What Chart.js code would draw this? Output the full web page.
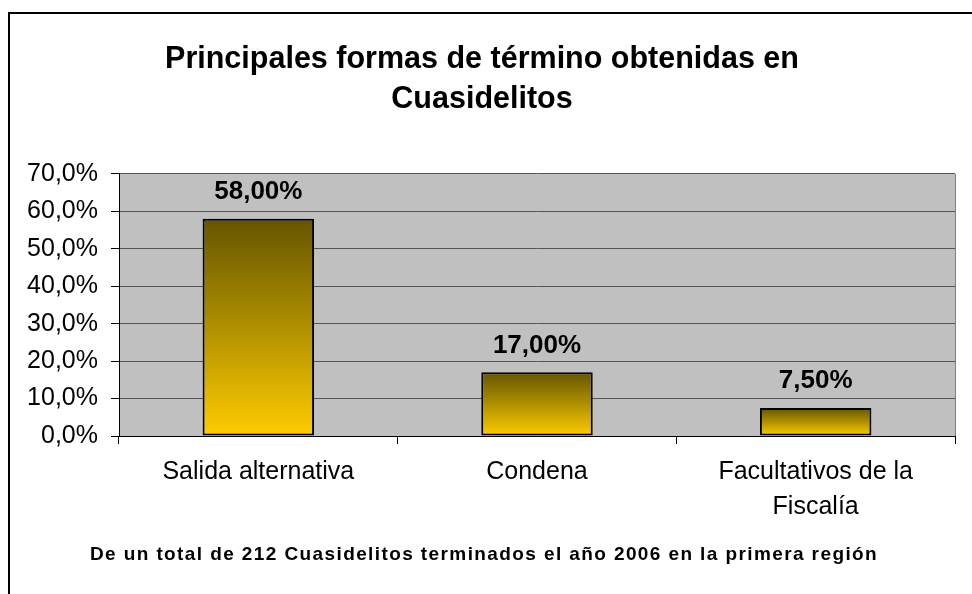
<!DOCTYPE html>
<html lang="es">
<head>
  <meta charset="UTF-8" />
  <title>Principales formas de término obtenidas en Cuasidelitos</title>
  <style>
    html, body { margin: 0; padding: 0; background: #ffffff; }
    #wrap { width: 972px; height: 594px; position: relative; }
  </style>
</head>
<body>
  <div id="wrap"><canvas id="grafico"></canvas></div>

  <script src="https://cdn.jsdelivr.net/npm/chart.js"></script>
  <script>
    // datos
    const categorias = ['Salida alternativa', 'Condena', ['Facultativos de la', 'Fiscalía']];
    const porcentajes = [58.0, 17.0, 7.5];
    const ejeY = { min: 0, max: 70, paso: 10 };
    const titulo = ['Principales formas de término obtenidas en', 'Cuasidelitos'];
    const nota = 'De un total de 212 Cuasidelitos terminados el año 2006 en la primera región';

    const FUENTE = "'Liberation Sans', Arial, sans-serif";
    const coma = (v, d) => v.toFixed(d).replace('.', ',') + '%';

    const degradado = (context) => {
      const chart = context.chart;
      if (!chart.chartArea) return '#ffcc00';
      const y = chart.scales.y;
      const top = y.getPixelForValue(context.raw);
      const base = y.getPixelForValue(0);
      const g = chart.ctx.createLinearGradient(0, top, 0, base);
      g.addColorStop(0, '#665500');
      g.addColorStop(0.45, '#a88a00');
      g.addColorStop(1, '#ffcc00');
      return g;
    };

    const marco = {
      id: 'marco',
      beforeDraw(chart) {
        const { ctx, chartArea: a } = chart;
        ctx.save();
        ctx.strokeStyle = '#000';
        ctx.lineWidth = 2;
        ctx.strokeRect(9, 13, 1000, 1000);
        ctx.fillStyle = '#c0c0c0';
        ctx.fillRect(a.left, a.top, a.right - a.left, a.bottom - a.top);
        ctx.restore();
      },
      afterDatasetsDraw(chart) {
        const { ctx, chartArea: a } = chart;
        ctx.save();
        ctx.strokeStyle = '#808080';
        ctx.lineWidth = 1;
        ctx.beginPath();
        ctx.moveTo(a.right + 0.5, a.top);
        ctx.lineTo(a.right + 0.5, a.bottom);
        ctx.stroke();
        // etiquetas de valor
        ctx.fillStyle = '#000';
        ctx.font = 'bold 26px ' + FUENTE;
        ctx.textAlign = 'center';
        ctx.textBaseline = 'middle';
        chart.getDatasetMeta(0).data.forEach((bar, i) => {
          ctx.fillText(coma(porcentajes[i], 2), bar.x, bar.y - 27);
        });
        // nota al pie
        ctx.font = 'bold 19px ' + FUENTE;
        ctx.letterSpacing = '1.4px';
        ctx.fillText(nota, 484, 555);
        ctx.restore();
      }
    };

    new Chart(document.getElementById('grafico'), {
      type: 'bar',
      data: {
        labels: categorias,
        datasets: [{
          data: porcentajes,
          backgroundColor: degradado,
          borderColor: '#000',
          borderWidth: 2,
          borderSkipped: false,
          barPercentage: 0.4,
          categoryPercentage: 1
        }]
      },
      options: {
        responsive: true,
        maintainAspectRatio: false,
        animation: false,
        layout: { padding: { left: 9, right: 17, top: 0, bottom: 58 } },
        plugins: {
          legend: { display: false },
          tooltip: { enabled: false },
          title: {
            display: true,
            text: titulo,
            color: '#000',
            font: { family: FUENTE, size: 30.5, weight: 'bold', lineHeight: 1.31 },
            padding: { top: 40, bottom: 54 }
          }
        },
        scales: {
          x: {
            afterFit(s) { s.height = 100; },
            grid: { drawOnChartArea: false, drawTicks: true, tickLength: 8, color: '#000', offset: true },
            border: { color: '#000', width: 1 },
            ticks: {
              color: '#000',
              padding: 11,
              maxRotation: 0,
              font: { family: FUENTE, size: 25, lineHeight: 1.4 }
            }
          },
          y: {
            min: ejeY.min,
            max: ejeY.max,
            afterFit(s) { s.width = 110; },
            grid: { color: '#555', tickColor: '#000', tickLength: 8 },
            border: { color: '#000', width: 1 },
            ticks: {
              stepSize: ejeY.paso,
              color: '#000',
              padding: 13,
              font: { family: FUENTE, size: 25 },
              callback: (v) => coma(v, 1)
            }
          }
        }
      },
      plugins: [marco]
    });
  </script>
</body>
</html>
